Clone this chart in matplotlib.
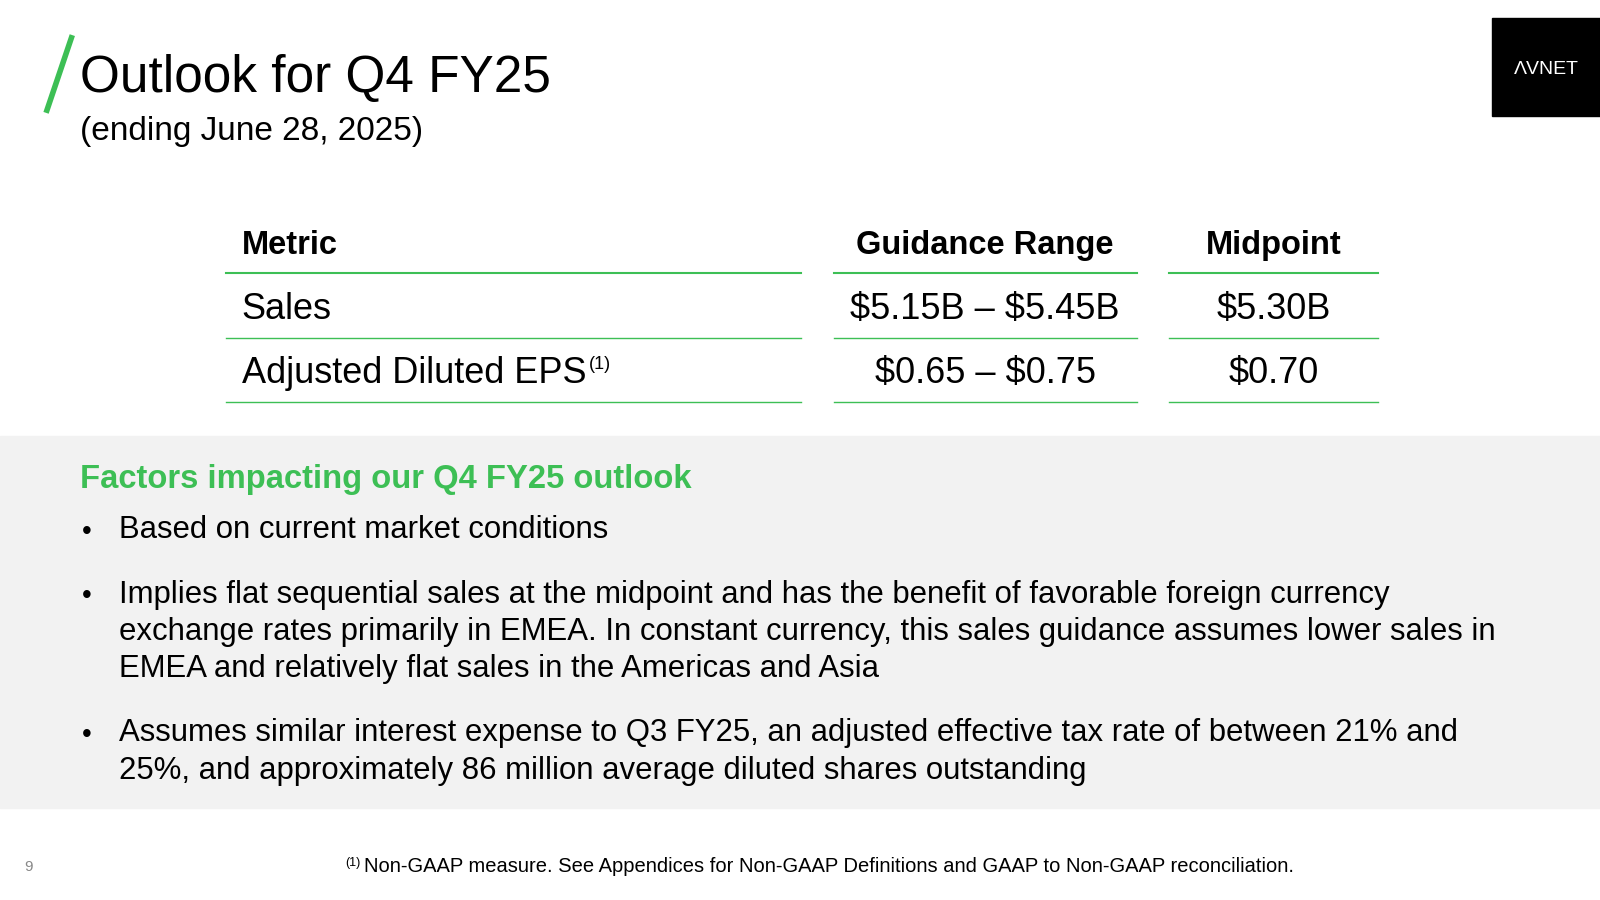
import matplotlib.pyplot as plt
from matplotlib.patches import Rectangle

# slide content
title = "Outlook for Q4 FY25"
subtitle = "(ending June 28, 2025)"
headers = ["Metric", "Guidance Range", "Midpoint"]
metrics = ["Sales", "Adjusted Diluted EPS"]
ranges = [r"\$5.15B – \$5.45B", r"\$0.65 – \$0.75"]
midpoints = [r"\$5.30B", r"\$0.70"]
factors_title = "Factors impacting our Q4 FY25 outlook"
bullets = [
    "Based on current market conditions",
    "Implies flat sequential sales at the midpoint and has the benefit of favorable foreign currency\n"
    "exchange rates primarily in EMEA. In constant currency, this sales guidance assumes lower sales in\n"
    "EMEA and relatively flat sales in the Americas and Asia",
    "Assumes similar interest expense to Q3 FY25, an adjusted effective tax rate of between 21% and\n"
    "25%, and approximately 86 million average diluted shares outstanding",
]
bullet_y = [521, 584, 720]
footnote = "Non-GAAP measure. See Appendices for Non-GAAP Definitions and GAAP to Non-GAAP reconciliation."

body = "Liberation Sans"
green = "#3dbf55"

fig = plt.figure(figsize=(16, 9), dpi=100)
ax = fig.add_axes([0, 0, 1, 1])
ax.set_xlim(0, 1568)
ax.set_ylim(882, 0)
ax.axis("off")

# grey factors band
ax.add_patch(Rectangle((0, 427), 1568, 365, color="#f2f2f2", zorder=0))
# logo box
ax.add_patch(Rectangle((1462, 18), 106, 96, color="black"))
ax.text(1515, 68, "ΛVNET", color="white", fontsize=14, family=body, ha="center", va="center")

# title slash
ax.plot([70, 46], [37, 108], color=green, lw=4)
ax.text(78, 77, title, fontsize=37, family=body, va="center")
ax.text(78, 129, subtitle, fontsize=24, family=body, va="center")

# table
cols = [(221, 785), (817, 1114), (1146, 1350)]
for i, h in enumerate(headers):
    x = 237 if i == 0 else sum(cols[i]) / 2
    ax.text(x, 241, h, fontsize=23.5, family=body, weight="bold",
            ha="left" if i == 0 else "center", va="center")
for y in [268, 331, 394]:
    for a, b in cols:
        ax.plot([a, b], [y, y], color=green, lw=1.5 if y == 268 else 1)
row_y = [303, 366]
for r in range(len(metrics)):
    ax.text(237, row_y[r], metrics[r], fontsize=26, family=body, va="center")
    ax.text(sum(cols[1]) / 2, row_y[r], ranges[r], fontsize=26, family=body, ha="center", va="center")
    ax.text(sum(cols[2]) / 2, row_y[r], midpoints[r], fontsize=26, family=body, ha="center", va="center")
ax.text(577, 357, "(1)", fontsize=13, family=body, va="center")

# factors
ax.text(78, 470, factors_title, fontsize=23.6, family=body, weight="bold", color=green, va="center")
for y, b in zip(bullet_y, bullets):
    ax.text(80, y, "•", fontsize=20, family=body, va="center")
    ax.text(117, y - 16, b, fontsize=22.4, family=body, va="top", linespacing=1.32)

# footer
ax.text(24, 850, "9", fontsize=11, color="#888888", family=body, va="center")
ax.text(338, 846, "(1)", fontsize=9, family=body, va="center")
ax.text(357, 849, footnote, fontsize=14.5, family=body, va="center")

fig.savefig("out.png", dpi=100)
